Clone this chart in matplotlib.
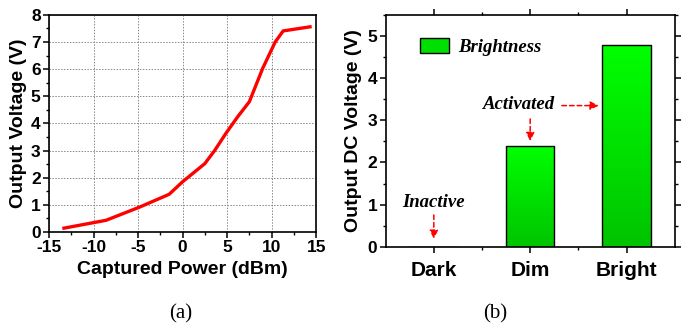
import numpy as np
import matplotlib
matplotlib.use("Agg")
from matplotlib import pyplot as plt
from matplotlib.patches import Patch
from matplotlib.ticker import MultipleLocator

# (a) captured power vs output voltage
power_dbm = [-13.5, -8.6, -4.8, -1.5, 0.0, 2.5, 3.6, 4.9, 6.2, 7.5, 9.0, 10.4, 11.3, 14.5]
voltage_v = [0.13, 0.43, 0.92, 1.39, 1.85, 2.52, 3.0, 3.65, 4.25, 4.8, 6.03, 7.0, 7.41, 7.57]

# (b) output dc voltage per light level
levels = ["Dark", "Dim", "Bright"]
dc_voltage = [0.0, 2.4, 4.8]

SANS = "Liberation Sans"
SERIF = "Liberation Serif"
plt.rcParams["font.family"] = SANS
plt.rcParams["font.weight"] = "bold"
plt.rcParams["axes.unicode_minus"] = False

fig = plt.figure(figsize=(6.85, 3.24), dpi=100)

# ---- left panel ----
ax1 = fig.add_axes([0.0715, 0.284, 0.390, 0.670])
ax1.plot(power_dbm, voltage_v, color="#ff0000", lw=2.4, solid_capstyle="butt")
ax1.set_xlim(-15, 15)
ax1.set_ylim(0, 8)
ax1.xaxis.set_major_locator(MultipleLocator(5))
ax1.xaxis.set_minor_locator(MultipleLocator(2.5))
ax1.yaxis.set_major_locator(MultipleLocator(1))
ax1.yaxis.set_minor_locator(MultipleLocator(0.5))
ax1.grid(True, which="major", ls=(0, (1.5, 1.5)), color="#888888", lw=0.7)
ax1.tick_params(which="major", direction="out", length=4, width=1.1, pad=2, labelsize=12.5)
ax1.tick_params(which="minor", direction="out", length=2.5, width=1.0)
ax1.set_xlabel("Captured Power (dBm)", fontweight="bold", fontsize=14, labelpad=4)
ax1.set_ylabel("Output Voltage (V)", fontweight="bold", fontsize=14, labelpad=3)
for sp in ax1.spines.values():
    sp.set_linewidth(1.2)

# ---- right panel ----
ax2 = fig.add_axes([0.563, 0.2386, 0.422, 0.715])
x = np.arange(len(levels))
bars = ax2.bar(x, dc_voltage, width=0.5, color="none", edgecolor="black", lw=1.0, zorder=3)
grad = np.linspace(0, 1, 100).reshape(-1, 1)
cmap = matplotlib.colors.LinearSegmentedColormap.from_list("g", ["#00c400", "#00ff00"])
for b in bars:
    if b.get_height() <= 0:
        continue
    x0, w, h = b.get_x(), b.get_width(), b.get_height()
    im = ax2.imshow(grad, extent=[x0, x0 + w, 0, h], origin="lower", aspect="auto",
                    cmap=cmap, zorder=2)
    im.set_clip_path(b)
ax2.set_xlim(-0.5, 2.5)
ax2.set_ylim(0, 5.5)
ax2.set_xticks(x)
ax2.set_xticklabels(levels)
ax2.set_xticks([0.5, 1.5], minor=True)
ax2.yaxis.set_major_locator(MultipleLocator(1))
ax2.yaxis.set_minor_locator(MultipleLocator(0.5))
ax2.tick_params(which="major", direction="out", length=4, width=1.1, pad=2, right=True, top=True,
                labelsize=12.5)
ax2.tick_params(which="minor", direction="out", length=2.5, width=1.0, right=True, top=True)
ax2.tick_params(axis="x", which="major", pad=6, labelsize=15)
ax2.set_ylabel("Output DC Voltage (V)", fontweight="bold", fontsize=14, labelpad=4)
for sp in ax2.spines.values():
    sp.set_linewidth(1.2)

leg = ax2.legend(handles=[Patch(facecolor="#00e000", edgecolor="black", lw=1.0, label="Brightness")],
                 loc="upper left", bbox_to_anchor=(0.06, 0.975), frameon=False, handlelength=1.55,
                 handleheight=0.85, handletextpad=0.5,
                 prop={"family": SERIF, "weight": "bold", "style": "italic", "size": 13.5})

annot = {"family": SERIF, "weight": "bold", "style": "italic", "size": 13.5}
arrow = dict(arrowstyle="-|>,head_width=0.25,head_length=0.5", color="red", lw=1.1, ls=(0, (3, 2)))
ax2.text(0.0, 1.04, "Inactive", ha="center", va="center", **annot)
ax2.annotate("", xy=(0.0, 0.12), xytext=(0.0, 0.82), arrowprops=arrow)
ax2.text(0.88, 3.38, "Activated", ha="center", va="center", **annot)
ax2.annotate("", xy=(1.0, 2.44), xytext=(1.0, 3.1), arrowprops=arrow)
ax2.annotate("", xy=(1.74, 3.35), xytext=(1.3, 3.35), arrowprops=arrow)

fig.text(0.264, 0.03, "(a)", ha="center", va="center", fontfamily=SERIF, fontweight="normal",
         fontsize=15)
fig.text(0.723, 0.03, "(b)", ha="center", va="center", fontfamily=SERIF, fontweight="normal",
         fontsize=15)

fig.savefig("out.png", dpi=100)
